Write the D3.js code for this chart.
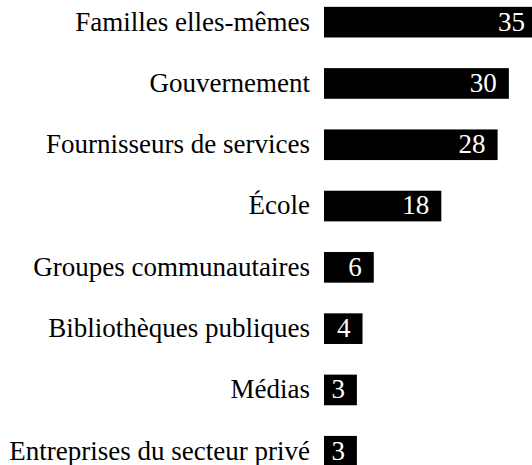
<!DOCTYPE html>
<html>
<head>
<meta charset="utf-8">
<script src="https://cdn.jsdelivr.net/npm/d3@7"></script>
</head>
<body style="margin:0">
<svg id="chart" width="532" height="465" font-family="Liberation Serif" font-size="27"></svg>
<script>
	// data
	var categories = ["Familles elles-mêmes", "Gouvernement", "Fournisseurs de services", "École",
		"Groupes communautaires", "Bibliothèques publiques", "Médias", "Entreprises du secteur privé"];
	var values = [35, 30, 28, 18, 6, 4, 3, 3];

	var barLeft = 324;

	var svg = d3.select("#chart");

	var y = d3.scaleBand()
		.domain(categories)
		.range([-8.5, 481.9])
		.paddingInner(0.5)
		.paddingOuter(0.25);

	var x = d3.scaleLinear()
		.domain([0, 35])
		.range([barLeft + 16, barLeft + 213]);

	svg.selectAll("rect")
		.data(categories)
		.enter().append("rect")
		.attr("x", barLeft)
		.attr("y", function(d){ return y(d); })
		.attr("width", function(d, i){ return x(values[i]) - barLeft; })
		.attr("height", y.bandwidth())
		.attr("fill", "#000");

	// category labels, left of the bars
	svg.selectAll("text.cat")
		.data(categories)
		.enter().append("text")
		.attr("class", "cat")
		.attr("x", barLeft - 14)
		.attr("y", function(d){ return y(d) + y.bandwidth() / 2; })
		.attr("dy", "0.31em")
		.attr("text-anchor", "end")
		.attr("fill", "#000")
		.text(function(d){ return d; });

	// values, white inside the bar end
	svg.selectAll("text.val")
		.data(categories)
		.enter().append("text")
		.attr("class", "val")
		.attr("x", function(d, i){ return x(values[i]) - 12; })
		.attr("y", function(d){ return y(d) + y.bandwidth() / 2; })
		.attr("dy", "0.31em")
		.attr("text-anchor", "end")
		.attr("fill", "#fff")
		.text(function(d, i){ return values[i]; });
</script>
</body>
</html>
